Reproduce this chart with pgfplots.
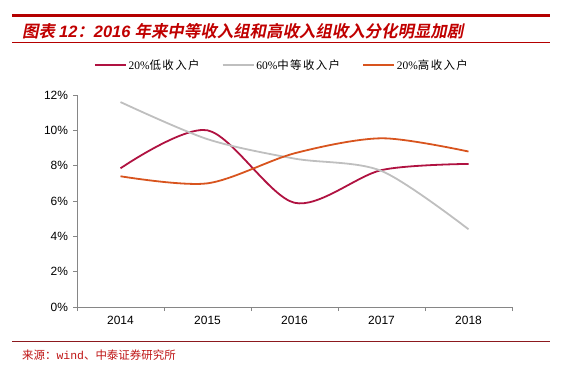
\documentclass[border=0pt]{standalone}
\usepackage{pgfplots}
\pgfplotsset{compat=1.18}
\usepackage{fontspec}
\setmainfont{Liberation Serif}
\newfontfamily\lsans{Liberation Sans}
\newfontfamily\lmono{Liberation Mono}
\newfontfamily\cjk{Noto Sans CJK SC}
\newfontfamily\cjkb{Noto Sans CJK SC}[UprightFont=* Bold, FakeSlant=0.2]
\newfontfamily\cjkl{Noto Sans CJK SC}[LetterSpace=12]
\definecolor{lowc}{RGB}{176,18,65}
\definecolor{midc}{RGB}{191,191,191}
\definecolor{highc}{RGB}{216,84,30}
\definecolor{titler}{RGB}{192,0,0}
\definecolor{topline}{RGB}{180,0,0}
\definecolor{botline}{RGB}{140,25,30}
\definecolor{srcc}{RGB}{190,20,20}
\definecolor{axc}{RGB}{134,134,134}
\begin{document}
\begin{tikzpicture}[x=1bp,y=1bp]
\path[use as bounding box] (0,0) rectangle (562,379);
\draw[topline, line width=2.5bp] (12,363.7) -- (550,363.7);
\draw[topline, line width=1bp] (12,336.5) -- (550,336.5);
\node[anchor=west, inner sep=0, text=titler, font=\fontsize{16.5}{19}\selectfont] at (22,348) {{\cjkb 图表}\hspace{0.25em}{\lsans\bfseries\itshape 12}{\cjkb ：}{\lsans\bfseries\itshape 2016}\hspace{0.25em}{\cjkb 年来中等收入组和高收入组收入分化明显加剧}};
\draw[botline, line width=1.3bp] (12,37.3) -- (550,37.3);
\node[anchor=west, inner sep=0, text=srcc, font=\fontsize{11.5}{13}\selectfont] at (22,24) {{\cjk 来源：}{\lmono wind}{\cjk 、中泰证券研究所}};
\begin{axis}[
  at={(77bp,72bp)}, anchor=south west,
  scale only axis, width=435bp, height=212bp,
  xmin=2013.5, xmax=2018.5, ymin=0, ymax=12,
  axis x line*=bottom, axis y line*=left,
  axis line style={draw=axc, line width=0.8bp},
  tick align=outside,
  xtick={2014,2015,2016,2017,2018},
  xticklabels={2014,2015,2016,2017,2018},
  major x tick style={draw=none},
  minor xtick={2013.5,2014.5,2015.5,2016.5,2017.5,2018.5},
  minor x tick style={draw=axc, line width=0.8bp},
  minor tick length=4bp,
  ytick={0,2,4,6,8,10,12},
  yticklabels={0\%,2\%,4\%,6\%,8\%,10\%,12\%},
  y tick style={draw=axc, line width=0.8bp},
  major tick length=4bp,
  tick label style={font=\lsans\fontsize{12}{14}\selectfont, text=black},
  xticklabel style={yshift=-2bp},
  yticklabel style={xshift=-1.5bp},
  legend style={at={(0.471,1.1415)}, anchor=center, draw=none, fill=none,
    legend columns=3, inner sep=0pt,
    font=\fontsize{11.5}{13}\selectfont,
    /tikz/every even column/.append style={column sep=20bp}},
  legend image code/.code={\draw[#1] (0bp,0bp) -- (31bp,0bp);},
  clip=false,
]
\addplot[lowc, line width=1.8bp, smooth] coordinates {(2014,7.85) (2015,10.0) (2016,5.9) (2017,7.75) (2018,8.1)};
\addlegendentry{20\%{\cjkl 低收入户}}
\addplot[midc, line width=1.8bp, smooth] coordinates {(2014,11.6) (2015,9.5) (2016,8.4) (2017,7.7) (2018,4.4)};
\addlegendentry{60\%{\cjkl 中等收入户}}
\addplot[highc, line width=1.8bp, smooth] coordinates {(2014,7.4) (2015,7.0) (2016,8.7) (2017,9.55) (2018,8.8)};
\addlegendentry{20\%{\cjkl 高收入户}}
\end{axis}
\end{tikzpicture}
\end{document}
